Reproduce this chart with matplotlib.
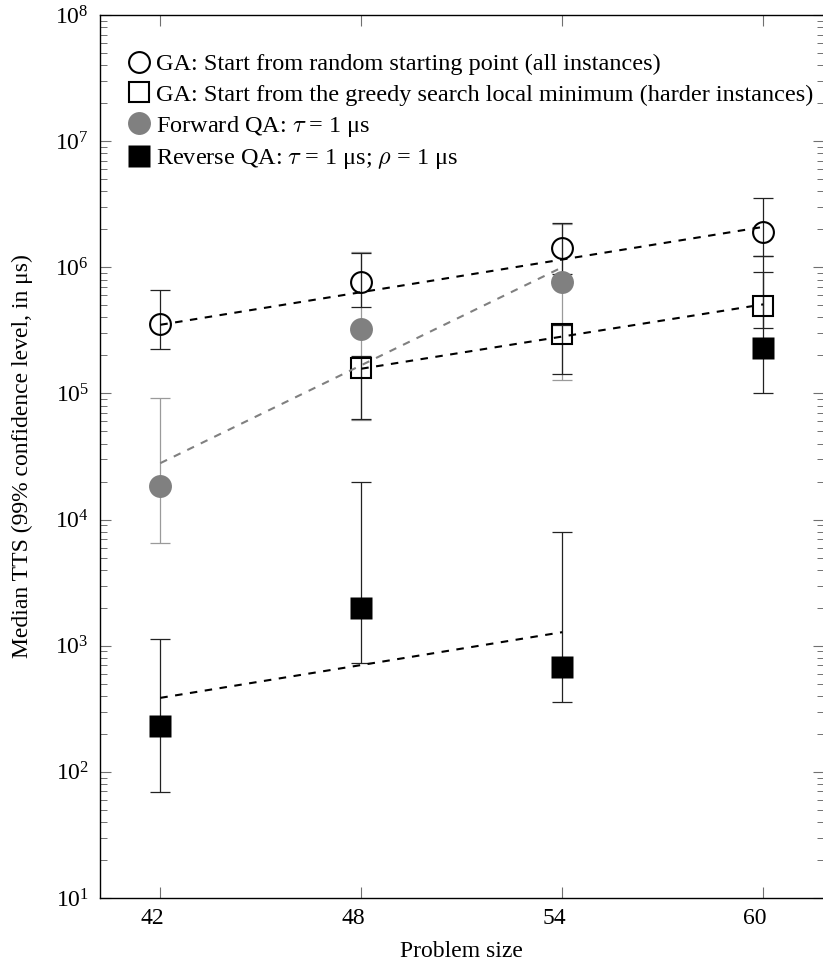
import matplotlib
matplotlib.use('Agg')
import matplotlib.pyplot as plt
import matplotlib.transforms as mtrans
import numpy as np
from matplotlib.lines import Line2D
from matplotlib.ticker import LogLocator, LogFormatterMathtext, NullFormatter

plt.rcParams['font.family'] = ['Liberation Serif', 'DejaVu Serif']
plt.rcParams['mathtext.fontset'] = 'cm'

# ---------------- data ----------------
sizes = [42, 48, 54, 60]

ga_rand = [3.57e5, 7.66e5, 1.41e6, 1.92e6]
ga_rand_lo = [2.26e5, 4.84e5, 8.9e5, 1.22e6]
ga_rand_hi = [6.65e5, 1.30e6, 2.25e6, 3.57e6]

greedy_sizes = [48, 54, 60]
ga_greedy = [1.59e5, 2.94e5, 4.9e5]
ga_greedy_lo = [6.3e4, 1.43e5, 3.3e5]
ga_greedy_hi = [1.97e5, 3.5e5, 9.2e5]

fwd_sizes = [42, 48, 54]
fwd_qa = [1.84e4, 3.26e5, 7.66e5]
fwd_qa_lo = [6.56e3, 6.2e4, 1.28e5]
fwd_qa_hi = [9.2e4, 1.33e6, 2.2e6]

rev_qa = [230, 2.0e3, 681, 2.3e5]
rev_qa_lo = [69, 733, 359, 1.01e5]
rev_qa_hi = [1.13e3, 1.98e4, 7.9e3, 1.22e6]

# fitted trend lines (end points)
ga_rand_fit_x = [42, 60]
ga_rand_fit = [3.5e5, 2.09e6]
greedy_fit_x = [48, 60]
greedy_fit = [1.57e5, 5.08e5]
fwd_fit_x = [42, 54]
fwd_fit = [2.8e4, 1.0e6]
rev_fit_x = [42, 54]
rev_fit = [386, 1.28e3]

labels = [
    "GA: Start from random starting point (all instances)",
    "GA: Start from the greedy search local minimum (harder instances)",
    "Forward QA: $\\tau$ = 1 μs",
    "Reverse QA: $\\tau$ = 1 μs; $\\rho$ = 1 μs",
]

# ---------------- figure ----------------
fig = plt.figure(figsize=(8.23, 9.65), dpi=100)
ax = fig.add_axes([100 / 823, 67 / 965, 723.5 / 823, 883 / 965])

GREY = '#808080'
EBGREY = '#9a9a9a'
FS = 17
LFS = 17.5


def yerr(v, lo, hi):
    v = np.asarray(v); lo = np.asarray(lo); hi = np.asarray(hi)
    return np.vstack([v - lo, hi - v])


ebkw = dict(fmt='none', capsize=7.5, elinewidth=0.9, capthick=0.9)
ax.errorbar(fwd_sizes, fwd_qa, yerr=yerr(fwd_qa, fwd_qa_lo, fwd_qa_hi), ecolor=EBGREY, zorder=2, **ebkw)
ax.errorbar(sizes, ga_rand, yerr=yerr(ga_rand, ga_rand_lo, ga_rand_hi), ecolor='#222222', zorder=2, **ebkw)
ax.errorbar(greedy_sizes, ga_greedy, yerr=yerr(ga_greedy, ga_greedy_lo, ga_greedy_hi), ecolor='#222222', zorder=2, **ebkw)
ax.errorbar(sizes, rev_qa, yerr=yerr(rev_qa, rev_qa_lo, rev_qa_hi), ecolor='#222222', zorder=2, **ebkw)

# markers
ax.plot(sizes, ga_rand, ls='none', marker='o', ms=15, mfc='none', mec='black', mew=1.5, zorder=4)
ax.plot(greedy_sizes, ga_greedy, ls='none', marker='s', ms=15, mfc='none', mec='black', mew=1.5, zorder=4)
ax.plot(fwd_sizes, fwd_qa, ls='none', marker='o', ms=16.5, mfc=GREY, mec='none', zorder=3)
ax.plot(sizes, rev_qa, ls='none', marker='s', ms=16, mfc='black', mec='none', zorder=3)

# fit lines
dkw = dict(lw=1.5, dashes=(3.6, 3.6), zorder=5)
ax.plot(ga_rand_fit_x, ga_rand_fit, color='black', **dkw)
ax.plot(greedy_fit_x, greedy_fit, color='black', **dkw)
ax.plot(fwd_fit_x, fwd_fit, color=GREY, **dkw)
ax.plot(rev_fit_x, rev_fit, color='black', **dkw)

ax.set_yscale('log')
ax.set_ylim(10, 1e8)
ax.set_xlim(40.2, 61.8)
ax.set_xticks(sizes)
ax.set_xticklabels([str(s) for s in sizes])
ax.yaxis.set_major_locator(LogLocator(base=10, numticks=20))
ax.yaxis.set_major_formatter(LogFormatterMathtext())
ax.yaxis.set_minor_locator(LogLocator(base=10, subs=np.arange(2, 10), numticks=20))
ax.yaxis.set_minor_formatter(NullFormatter())

ax.tick_params(axis='both', which='both', direction='in', colors='#707070',
               labelcolor='black', top=True, right=True)
ax.tick_params(axis='y', which='major', length=8, width=0.8, labelsize=FS, pad=8)
ax.tick_params(axis='y', which='minor', length=5, width=0.7)
ax.tick_params(axis='x', which='major', length=8, width=0.8, labelsize=FS, pad=7)

# x tick labels sit slightly left of their ticks in the reference
offset = mtrans.ScaledTranslation(-8 / 100, 0, fig.dpi_scale_trans)
for lab in ax.get_xticklabels():
    lab.set_transform(lab.get_transform() + offset)

for s in ax.spines.values():
    s.set_linewidth(1.0)

ax.set_xlabel('Problem size', fontsize=FS)
ax.xaxis.set_label_coords(0.5, -0.049)
ax.set_ylabel('Median TTS (99% confidence level, in μs)', fontsize=FS)
ax.yaxis.set_label_coords(-0.093, 0.5)

handles = [
    Line2D([], [], ls='none', marker='o', ms=15, mfc='none', mec='black', mew=1.5),
    Line2D([], [], ls='none', marker='s', ms=15, mfc='none', mec='black', mew=1.5),
    Line2D([], [], ls='none', marker='o', ms=16.5, mfc=GREY, mec='none'),
    Line2D([], [], ls='none', marker='s', ms=16, mfc='black', mec='none'),
]
leg = ax.legend(handles, labels, loc='upper left', bbox_to_anchor=(0.0393, 0.9565),
                frameon=False, fontsize=LFS, handlelength=0.88, handletextpad=0.27,
                labelspacing=0.34, borderpad=0, borderaxespad=0)

fig.savefig('out.png', dpi=100)
